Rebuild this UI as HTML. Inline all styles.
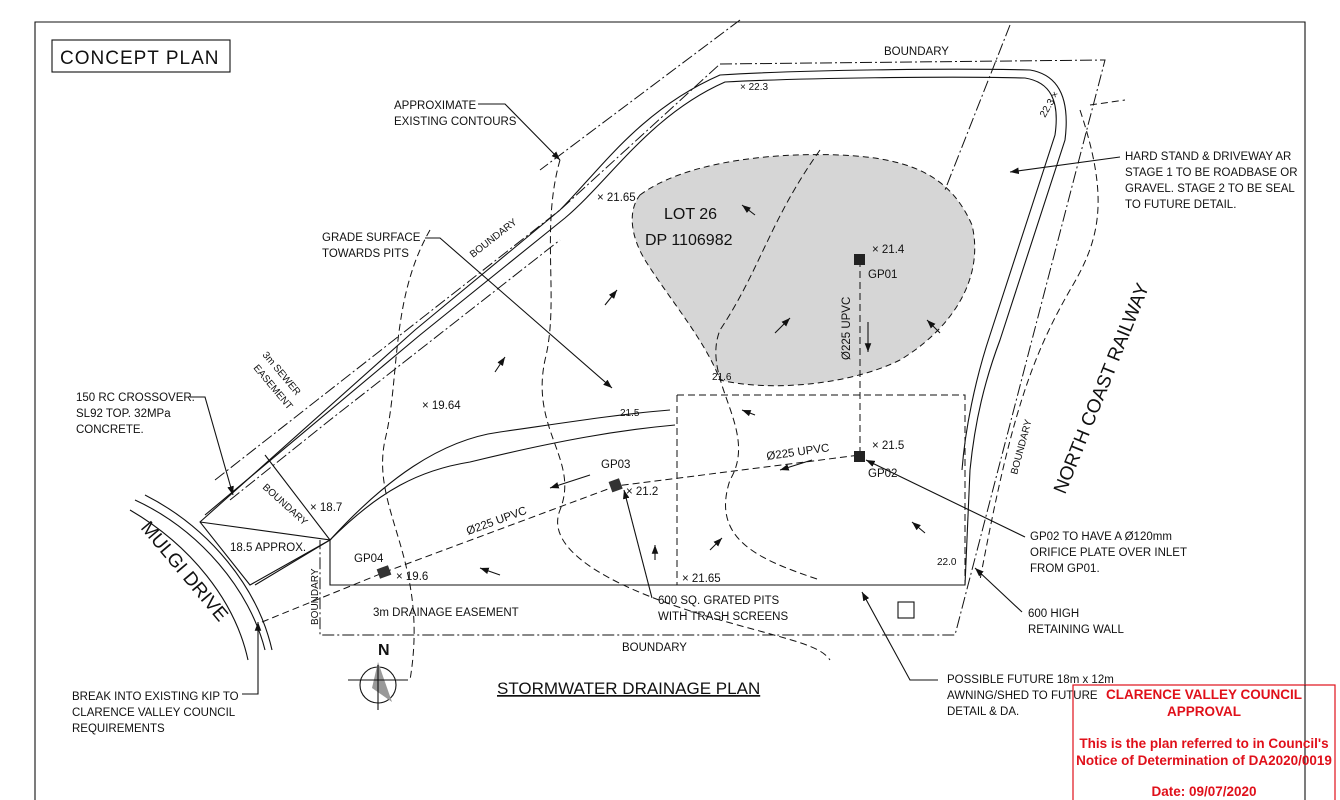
<!DOCTYPE html>
<html><head><meta charset="utf-8"><style>
html,body{margin:0;padding:0;background:#fff;width:1340px;height:800px;overflow:hidden}
svg{display:block}
text{font-family:"Liberation Sans",sans-serif;font-size:11.5px;fill:#111}
.l{stroke:#111;stroke-width:1.1;fill:none}
.d{stroke:#111;stroke-width:1;fill:none;stroke-dasharray:7 4}
.dd{stroke:#111;stroke-width:1;fill:none;stroke-dasharray:12 3 2 3}
.r{font-weight:bold;fill:#e0101a;font-size:13.5px}
</style></head><body>
<svg width="1340" height="800" viewBox="0 0 1340 800">
<defs><marker id="a" markerWidth="8" markerHeight="6" refX="8" refY="3" orient="auto"><path d="M0,0 L8,3 L0,6z" fill="#111"/></marker></defs>
<path class="l" d="M35,800 V22 H1305 V685"/>
<rect x="52" y="40" width="178" height="32" class="l"/>
<text x="60" y="64" style="font-size:19px;letter-spacing:1px">CONCEPT PLAN</text>
<path d="M640,195 C680,165 760,152 840,155 C910,158 950,175 972,225 C985,280 950,330 900,360 C850,385 770,392 720,380 C705,340 670,300 645,260 C630,235 628,210 640,195Z" fill="#d6d6d6" stroke="#111" stroke-dasharray="6 4"/>
<path class="dd" d="M720,64 L1105,60 L955,635 L320,635 L320,540"/>
<path class="dd" d="M215,480 L560,210 L720,64"/>
<path class="dd" d="M230,500 L330,420 L560,240"/>
<path class="dd" d="M740,20 L540,170"/>
<path class="dd" d="M1010,25 L945,190"/>
<path class="l" d="M200,522 L415,330 L560,210 C600,170 640,110 720,75 C800,70 950,68 1030,70 C1060,75 1070,100 1065,140 L1000,340 C985,380 975,420 970,470 L965,585 L330,585 L330,540 L250,585 L200,522Z"/>
<path class="l" d="M205,515 L420,335 L565,218 C610,180 650,115 725,82 C800,78 950,76 1025,78 C1050,82 1060,100 1055,135 L990,335 C975,380 965,430 962,470"/>
<path class="l" d="M330,540 C380,490 420,470 470,462 C560,440 620,430 675,425"/>
<path class="l" d="M330,540 C385,480 440,440 500,432 C570,422 620,414 670,410"/>
<path class="l" d="M200,522 L330,540 L255,585"/>
<path class="l" d="M265,455 L330,540"/>
<path class="l" d="M135,500 C200,530 250,590 265,650"/>
<path class="l" d="M145,495 C210,528 258,588 272,650"/>
<path class="l" d="M130,510 C190,545 235,600 248,660"/>
<path class="d" d="M330,585 H965"/>
<path class="d" d="M677,395 H965 V585 M677,395 V585"/>
<rect x="898" y="602" width="16" height="16" class="l"/>
<path class="d" d="M262,622 L385,572 L616,486 L860,455"/>
<path class="d" d="M860,260 V455"/>
<rect x="854" y="254" width="11" height="11" fill="#222"/>
<rect x="854" y="451" width="11" height="11" fill="#222"/>
<rect x="610" y="480" width="11" height="11" fill="#333" transform="rotate(-20 615 485)"/>
<rect x="378" y="567" width="12" height="10" fill="#333" transform="rotate(-20 384 572)"/>
<path class="d" d="M560,160 C540,230 560,300 545,360 C530,430 580,460 560,510 C540,560 650,600 720,620 C790,640 820,645 830,660"/>
<path class="d" d="M430,230 C390,300 400,380 385,440 C370,510 430,560 410,680"/>
<path class="d" d="M820,150 C770,220 760,270 720,330 C700,380 760,430 730,480 C710,540 760,560 820,580"/>
<path class="d" d="M1080,110 C1110,200 1100,240 1070,290 C1030,360 1010,420 980,580"/>
<path class="d" d="M1090,105 L1125,100"/>
<g class="l">
<path d="M478,104 H505 L560,160" marker-end="url(#a)"/>
<path d="M425,238 H440 L612,388" marker-end="url(#a)"/>
<path d="M190,397 H205 L233,495" marker-end="url(#a)"/>
<path d="M1120,157 L1010,172" marker-end="url(#a)"/>
<path d="M1025,537 L866,460" marker-end="url(#a)"/>
<path d="M1022,612 L975,568" marker-end="url(#a)"/>
<path d="M652,598 L624,490" marker-end="url(#a)"/>
<path d="M938,680 H910 L862,592" marker-end="url(#a)"/>
<path d="M242,694 H258 V622" marker-end="url(#a)"/>
<path d="M868,322 V352" marker-end="url(#a)"/>
<path d="M812,460 L780,470" marker-end="url(#a)"/>
<path d="M590,475 L550,488" marker-end="url(#a)"/>
<path d="M500,575 L480,568" marker-end="url(#a)"/>
</g>
<g class="l">
<path d="M775,333 L790,318" marker-end="url(#a)"/><path d="M940,333 L927,320" marker-end="url(#a)"/>
<path d="M605,305 L617,290" marker-end="url(#a)"/><path d="M495,372 L505,357" marker-end="url(#a)"/>
<path d="M755,215 L742,205" marker-end="url(#a)"/><path d="M755,415 L742,410" marker-end="url(#a)"/>
<path d="M710,550 L722,538" marker-end="url(#a)"/><path d="M925,533 L912,522" marker-end="url(#a)"/>
<path d="M655,560 L655,545" marker-end="url(#a)"/>
</g>
<text x="394" y="109">APPROXIMATE</text><text x="394" y="125">EXISTING CONTOURS</text>
<text x="322" y="241">GRADE SURFACE</text><text x="322" y="257">TOWARDS PITS</text>
<text x="76" y="401">150 RC CROSSOVER.</text><text x="76" y="417">SL92 TOP. 32MPa</text><text x="76" y="433">CONCRETE.</text>
<text x="884" y="55">BOUNDARY</text>
<text x="664" y="219" style="font-size:16px">LOT 26</text><text x="645" y="245" style="font-size:16px">DP 1106982</text>
<text x="872" y="253">× 21.4</text><text x="868" y="278">GP01</text>
<text x="872" y="449">× 21.5</text><text x="868" y="477">GP02</text>
<text x="601" y="468">GP03</text><text x="626" y="495">× 21.2</text>
<text x="354" y="562">GP04</text><text x="396" y="580">× 19.6</text>
<text x="422" y="409">× 19.64</text><text x="597" y="201">× 21.65</text>
<text x="682" y="582">× 21.65</text><text x="310" y="511">× 18.7</text>
<text x="230" y="551">18.5 APPROX.</text>
<text x="373" y="616">3m DRAINAGE EASEMENT</text>
<text x="622" y="651">BOUNDARY</text>
<text x="658" y="604">600 SQ. GRATED PITS</text><text x="658" y="620">WITH TRASH SCREENS</text>
<text x="497" y="694" style="font-size:17px;text-decoration:underline">STORMWATER DRAINAGE PLAN</text>
<text x="947" y="683">POSSIBLE FUTURE 18m x 12m</text><text x="947" y="699">AWNING/SHED TO FUTURE</text><text x="947" y="715">DETAIL &amp; DA.</text>
<text x="1125" y="160">HARD STAND &amp; DRIVEWAY AR</text><text x="1125" y="176">STAGE 1 TO BE ROADBASE OR</text><text x="1125" y="192">GRAVEL. STAGE 2 TO BE SEAL</text><text x="1125" y="208">TO FUTURE DETAIL.</text>
<text x="1030" y="540">GP02 TO HAVE A Ø120mm</text><text x="1030" y="556">ORIFICE PLATE OVER INLET</text><text x="1030" y="572">FROM GP01.</text>
<text x="1028" y="617">600 HIGH</text><text x="1028" y="633">RETAINING WALL</text>
<text x="72" y="700">BREAK INTO EXISTING KIP TO</text><text x="72" y="716">CLARENCE VALLEY COUNCIL</text><text x="72" y="732">REQUIREMENTS</text>
<text transform="translate(1065,495) rotate(-68)" style="font-size:19px">NORTH COAST RAILWAY</text>
<text transform="translate(140,528) rotate(50)" style="font-size:19px">MULGI DRIVE</text>
<text transform="translate(473,258) rotate(-38)" style="font-size:10px">BOUNDARY</text>
<text transform="translate(262,488) rotate(42)" style="font-size:10px">BOUNDARY</text>
<text transform="translate(318,625) rotate(-90)" style="font-size:10px">BOUNDARY</text>
<text transform="translate(1017,475) rotate(-75)" style="font-size:10px">BOUNDARY</text>
<text transform="translate(262,355) rotate(50)" style="font-size:10px">3m SEWER</text>
<text transform="translate(253,368) rotate(50)" style="font-size:10px">EASEMENT</text>
<text transform="translate(850,360) rotate(-90)">Ø225 UPVC</text>
<text transform="translate(767,460) rotate(-8)">Ø225 UPVC</text>
<text transform="translate(468,535) rotate(-20)">Ø225 UPVC</text>
<text x="378" y="655" style="font-size:16px;font-weight:bold">N</text>
<circle cx="378" cy="685" r="18" class="l"/>
<path d="M378,662 L372,688 L392,702Z" fill="#999"/>
<path class="l" d="M348,680 H408 M378,665 V710"/>
<text x="1045" y="118" transform="rotate(-60 1045 118)" style="font-size:10px">22.3 ×</text>
<text x="740" y="90" style="font-size:10px">× 22.3</text>
<text x="620" y="416" style="font-size:10px">21.5</text>
<text x="712" y="380" style="font-size:10px">21.6</text>
<text x="937" y="565" style="font-size:10px">22.0</text>
<rect x="1073" y="685" width="262" height="120" fill="none" stroke="#e0101a" stroke-width="1.2"/>
<path class="l" d="M1305,685 V800"/>
<text class="r" x="1204" y="699" text-anchor="middle">CLARENCE VALLEY COUNCIL</text>
<text class="r" x="1204" y="716" text-anchor="middle">APPROVAL</text>
<text class="r" x="1204" y="748" text-anchor="middle">This is the plan referred to in Council's</text>
<text class="r" x="1204" y="765" text-anchor="middle">Notice of Determination of DA2020/0019</text>
<text class="r" x="1204" y="796" text-anchor="middle">Date: 09/07/2020</text>
</svg>
</body></html>
